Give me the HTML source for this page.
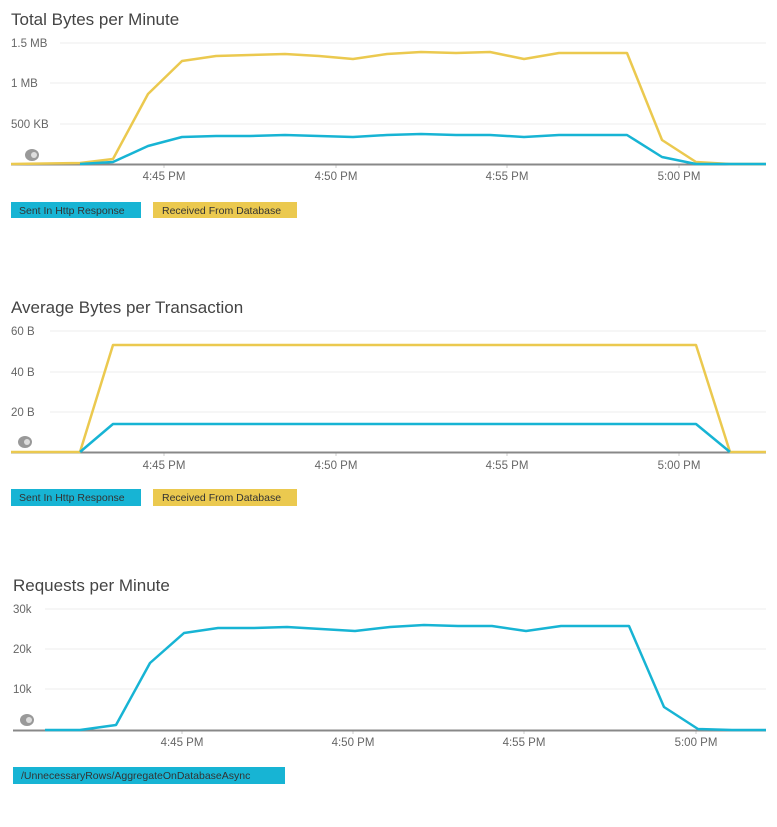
<!DOCTYPE html>
<html><head><style>
body{margin:0;background:#fff;}
svg text{font-family:"Liberation Sans",sans-serif;}
</style></head><body>
<svg width="777" height="822" xmlns="http://www.w3.org/2000/svg">
<g fill="#444" font-size="17"><text x="11" y="25">Total Bytes per Minute</text><text x="11" y="313">Average Bytes per Transaction</text><text x="13" y="591">Requests per Minute</text></g>
<g stroke="#eee" stroke-width="1">
<line x1="60" y1="43" x2="766" y2="43"/><line x1="50" y1="83" x2="766" y2="83"/><line x1="60" y1="124" x2="766" y2="124"/>
<line x1="50" y1="331" x2="766" y2="331"/><line x1="50" y1="372" x2="766" y2="372"/><line x1="50" y1="412" x2="766" y2="412"/>
<line x1="45" y1="609" x2="766" y2="609"/><line x1="45" y1="649" x2="766" y2="649"/><line x1="45" y1="689" x2="766" y2="689"/>
</g>
<g fill="#666" font-size="11.5">
<text x="11" y="47">1.5 MB</text><text x="11" y="87">1 MB</text><text x="11" y="128">500 KB</text>
<text x="11" y="335">60 B</text><text x="11" y="376">40 B</text><text x="11" y="416">20 B</text>
<text x="13" y="613">30k</text><text x="13" y="653">20k</text><text x="13" y="693">10k</text>
</g>
<g fill="#666" font-size="11.5" text-anchor="middle">
<text x="164" y="180">4:45 PM</text><text x="336" y="180">4:50 PM</text><text x="507" y="180">4:55 PM</text><text x="679" y="180">5:00 PM</text>
<text x="164" y="469">4:45 PM</text><text x="336" y="469">4:50 PM</text><text x="507" y="469">4:55 PM</text><text x="679" y="469">5:00 PM</text>
<text x="182" y="746">4:45 PM</text><text x="353" y="746">4:50 PM</text><text x="524" y="746">4:55 PM</text><text x="696" y="746">5:00 PM</text>
</g>
<g stroke="#ccc" stroke-width="1">
<line x1="164" y1="164" x2="164" y2="168"/><line x1="336" y1="164" x2="336" y2="168"/><line x1="507" y1="164" x2="507" y2="168"/><line x1="679" y1="164" x2="679" y2="168"/>
<line x1="164" y1="452" x2="164" y2="456"/><line x1="336" y1="452" x2="336" y2="456"/><line x1="507" y1="452" x2="507" y2="456"/><line x1="679" y1="452" x2="679" y2="456"/>
<line x1="182" y1="730" x2="182" y2="734"/><line x1="353" y1="730" x2="353" y2="734"/><line x1="524" y1="730" x2="524" y2="734"/><line x1="696" y1="730" x2="696" y2="734"/>
</g>
<g stroke="#888" stroke-width="2">
<line x1="11" y1="164.5" x2="766" y2="164.5"/><line x1="11" y1="452.5" x2="766" y2="452.5"/><line x1="13" y1="730.5" x2="766" y2="730.5"/>
</g>
<g fill="none" stroke-width="2.5" stroke-linejoin="round">
<polyline stroke="#ebc94f" points="11,164 80,163 113,159 148,94 182,61 216,56 250,55 285,54 319,56 353,59 387,54 421,52 456,53 490,52 524,59 559,53 593,53 627,53 662,140 696,162 730,164 766,164"/>
<polyline stroke="#17b4d4" points="80,164 113,162 148,146 182,137 216,136 250,136 285,135 319,136 353,137 387,135 421,134 456,135 490,135 524,137 559,135 593,135 627,135 662,157 696,164 766,164"/>
<polyline stroke="#ebc94f" points="11,452 80,452 113,345 696,345 730,452 766,452"/>
<polyline stroke="#17b4d4" points="80,452 113,424 696,424 730,452"/>
<polyline stroke="#17b4d4" points="45,730 80,730 116,725 150,663 184,633 218,628 253,628 287,627 321,629 355,631 390,627 424,625 458,626 492,626 526,631 561,626 595,626 629,626 664,707 698,729 732,730 766,730"/>
</g>
<g fill="#999"><ellipse cx="32" cy="155" rx="7" ry="6"/><ellipse cx="25" cy="442" rx="7" ry="6"/><ellipse cx="27" cy="720" rx="7" ry="6"/></g>
<g fill="#ddd"><ellipse cx="34" cy="155" rx="3" ry="3"/><ellipse cx="27" cy="442" rx="3" ry="3"/><ellipse cx="29" cy="720" rx="3" ry="3"/></g>
<rect x="11" y="202" width="130" height="16" fill="#17b4d4"/><rect x="153" y="202" width="144" height="16" fill="#ebc94f"/>
<rect x="11" y="489" width="130" height="17" fill="#17b4d4"/><rect x="153" y="489" width="144" height="17" fill="#ebc94f"/>
<rect x="13" y="767" width="272" height="17" fill="#17b4d4"/>
<g fill="#333" font-size="10.5">
<text x="19" y="214">Sent In Http Response</text><text x="162" y="214">Received From Database</text>
<text x="19" y="501">Sent In Http Response</text><text x="162" y="501">Received From Database</text>
<text x="21" y="779">/UnnecessaryRows/AggregateOnDatabaseAsync</text>
</g>
</svg>
</body></html>
